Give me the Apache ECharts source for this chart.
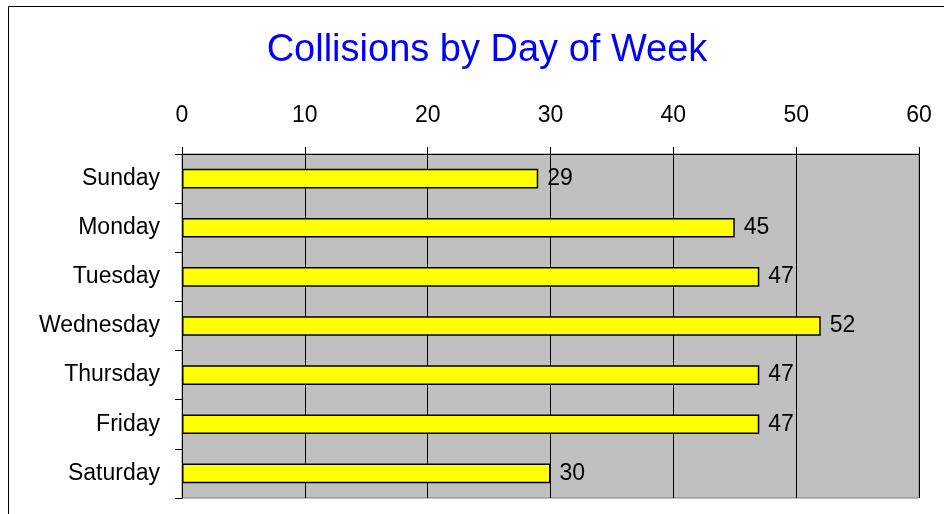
<!DOCTYPE html>
<html>
<head>
<meta charset="utf-8">
<script src="https://cdn.jsdelivr.net/npm/echarts@6/dist/echarts.min.js"></script>
<style>
  html, body { margin: 0; padding: 0; background: #fff; }
  #chart { width: 944px; height: 514px; }
</style>
</head>
<body>
<div id="chart"></div>
<script>
  // chart data
  var days = ['Sunday', 'Monday', 'Tuesday', 'Wednesday', 'Thursday', 'Friday', 'Saturday'];
  var collisions = [29, 45, 47, 52, 47, 47, 30];
  var axisMin = 0, axisMax = 60, axisStep = 10;

  var font = 'Liberation Sans, Arial, sans-serif';
  var chart = echarts.init(document.getElementById('chart'));

  chart.setOption({
    animation: false,
    title: {
      text: 'Collisions by Day of Week',
      left: 482,
      textAlign: 'center',
      top: 27,
      textStyle: { color: '#0000ff', fontSize: 38, fontWeight: 'normal', fontFamily: font }
    },
    graphic: [{
      type: 'rect',
      shape: { x: 8.5, y: 6.5, width: 1000, height: 1000 },
      style: { fill: 'none', stroke: '#000', lineWidth: 1 },
      z: -1
    }],
    grid: {
      left: 182, right: 25, top: 154, bottom: 16,
      show: true,
      backgroundColor: '#c0c0c0',
      borderColor: '#808080',
      borderWidth: 1
    },
    xAxis: {
      type: 'value',
      position: 'top',
      min: axisMin, max: axisMax, interval: axisStep,
      axisLine: { show: true, lineStyle: { color: '#000', width: 1 } },
      axisTick: { show: true, length: 7, lineStyle: { color: '#000' } },
      axisLabel: { color: '#000', fontSize: 23, fontFamily: font, margin: 27 },
      splitLine: { show: true, lineStyle: { color: '#000', width: 1 } }
    },
    yAxis: {
      type: 'category',
      data: days,
      inverse: true,
      axisLine: { show: true, lineStyle: { color: '#000', width: 1 } },
      axisTick: { show: true, length: 7, alignWithLabel: false, lineStyle: { color: '#000' } },
      axisLabel: { color: '#000', fontSize: 23, fontFamily: font, margin: 22 },
      splitLine: { show: false }
    },
    series: [{
      type: 'bar',
      data: collisions,
      barWidth: '40%',
      itemStyle: { color: '#ffff00', borderColor: '#000', borderWidth: 1.5 },
      label: {
        show: true,
        position: 'right',
        distance: 9,
        color: '#000',
        fontSize: 23,
        fontFamily: font
      }
    }]
  });
</script>
</body>
</html>
